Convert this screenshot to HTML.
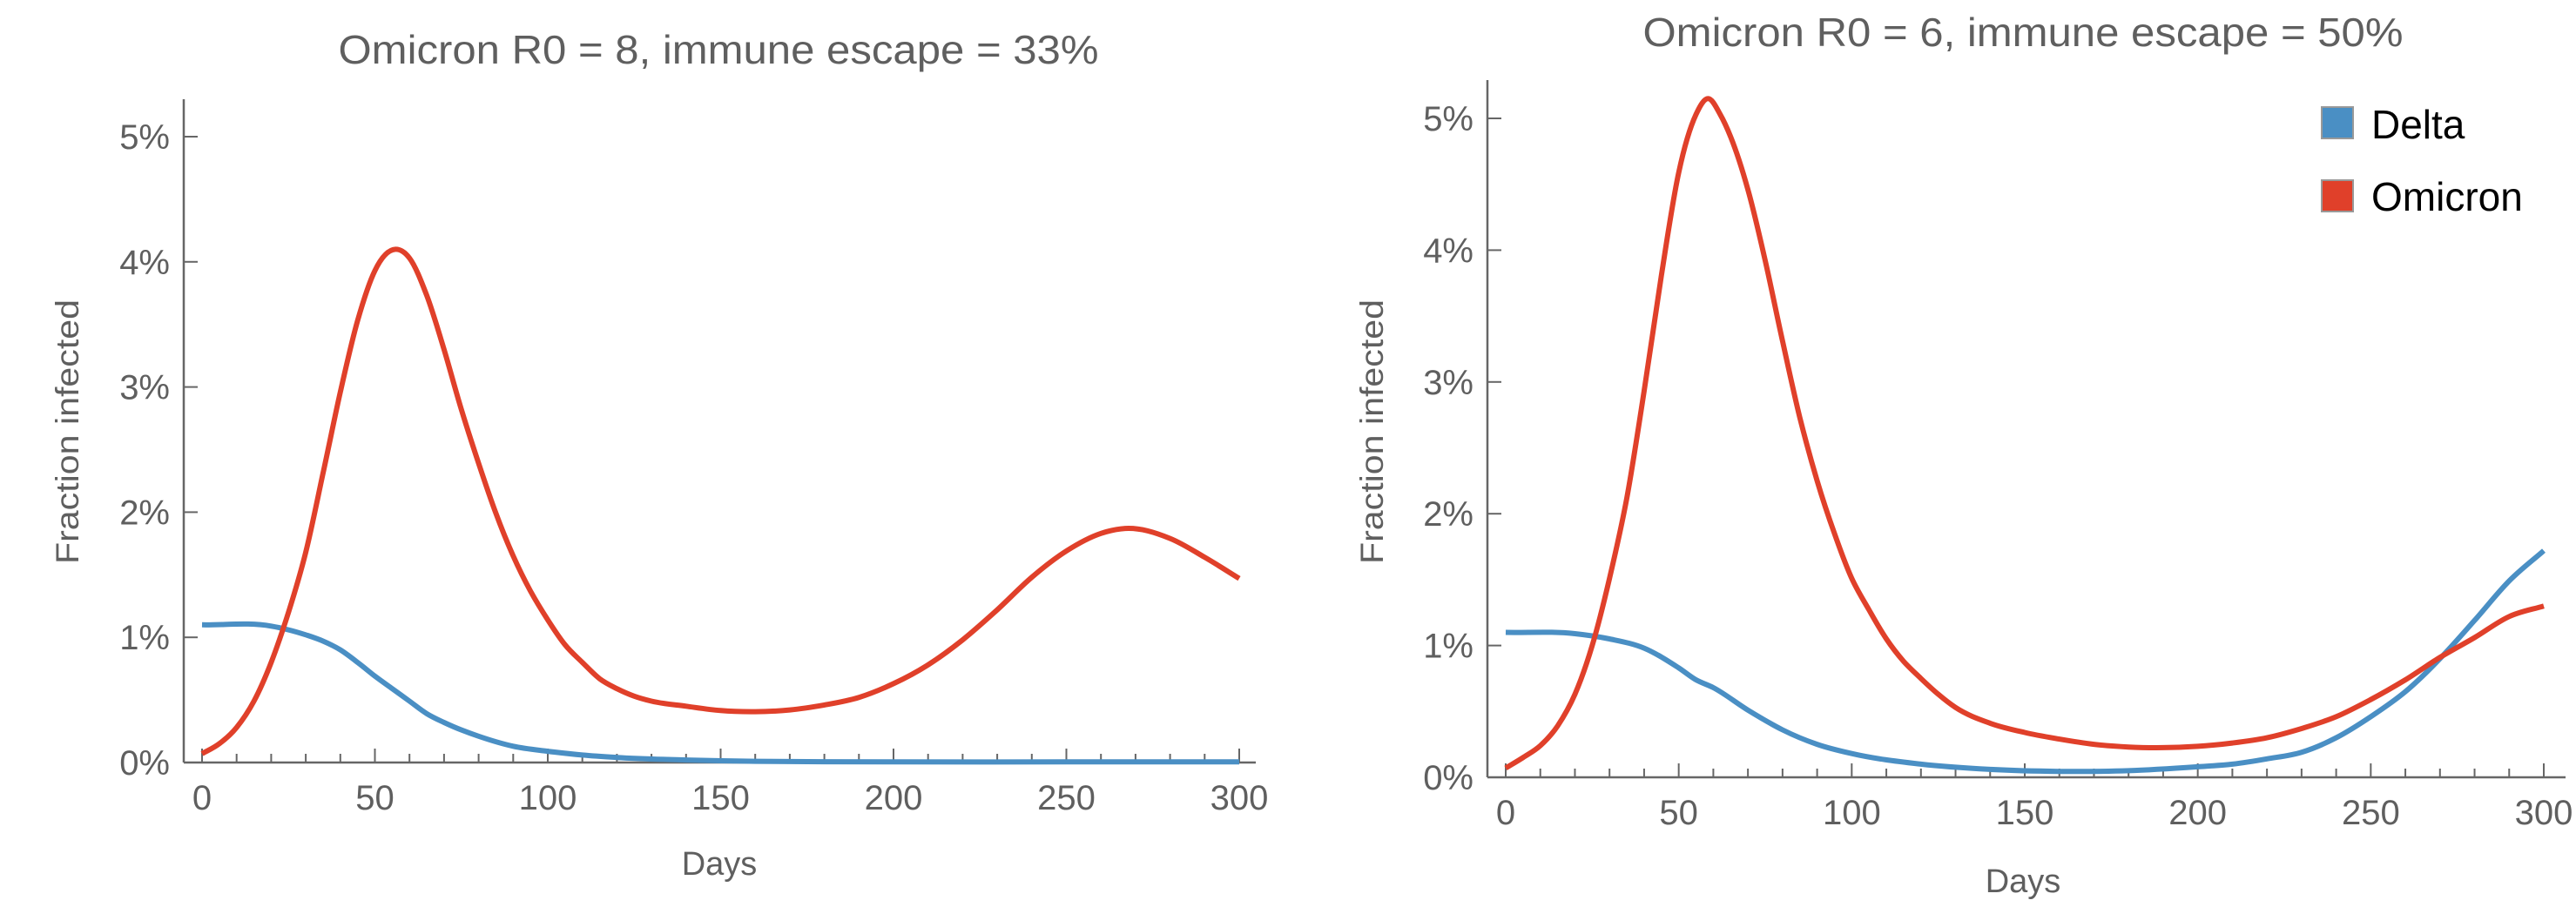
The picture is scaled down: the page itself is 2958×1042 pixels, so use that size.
<!DOCTYPE html>
<html><head><meta charset="utf-8"><style>
html,body{margin:0;padding:0;background:#fff;}
svg{display:block;font-family:"Liberation Sans",sans-serif;}
</style></head><body>
<svg id="chart" width="2958" height="1042" viewBox="0 0 2958 1042"></svg>
<script>
const leftOmDays = [0,5,10,15,20,25,30,35,40,45,50,56,60,65,70,75,80,85,90,95,100,105,110,115,120,125,130,140,150,160,170,180,190,200,210,220,230,240,250,260,267,280,290,300];
const leftOmicron = [0.07,0.15,0.28,0.49,0.8,1.2,1.68,2.31,2.96,3.53,3.93,4.1,4.03,3.73,3.3,2.82,2.39,1.99,1.65,1.37,1.14,0.94,0.8,0.67,0.59,0.53,0.49,0.45,0.415,0.406,0.42,0.46,0.52,0.63,0.78,0.98,1.22,1.48,1.69,1.83,1.87,1.79,1.64,1.47];
const leftDeltaDays = [0,20,25,30,35,40,45,50,55,60,65,70,75,80,90,100,110,120,140,160,200,250,300];
const leftDelta = [1.1,1.09,1.06,1.02,0.97,0.9,0.8,0.69,0.59,0.49,0.39,0.32,0.26,0.21,0.13,0.09,0.06,0.04,0.02,0.01,0.005,0.005,0.005];
const rightOmDays = [0,5,10,15,20,25,30,35,40,45,50,55,58.5,62,65,70,75,80,85,90,95,100,105,110,115,120,125,130,140,150,160,170,180,190,200,210,220,230,240,250,260,270,280,290,300];
const rightOmicron = [0.07,0.15,0.24,0.39,0.63,1.0,1.51,2.12,2.93,3.81,4.59,5.03,5.15,5.03,4.86,4.46,3.92,3.31,2.73,2.25,1.85,1.51,1.27,1.05,0.88,0.75,0.63,0.53,0.41,0.34,0.29,0.25,0.23,0.225,0.235,0.26,0.3,0.37,0.46,0.59,0.74,0.91,1.06,1.22,1.3];
const rightDeltaDays = [0,20,30,40,50,55,60,70,80,90,100,120,140,160,180,200,210,220,230,240,250,260,270,280,290,300];
const rightDelta = [1.1,1.09,1.05,0.98,0.83,0.74,0.68,0.51,0.36,0.25,0.18,0.1,0.06,0.045,0.05,0.08,0.1,0.14,0.19,0.3,0.46,0.65,0.9,1.19,1.49,1.72];
const xTicks = [0,50,100,150,200,250,300];
const yTicks = [0,1,2,3,4,5];
const yTickLabels = ["0%","1%","2%","3%","4%","5%"];

const NS = "http://www.w3.org/2000/svg";
const svg = document.getElementById('chart');
function mk(tag, attrs, parent){const e=document.createElementNS(NS,tag);for(const k in attrs)e.setAttribute(k,attrs[k]);(parent||svg).appendChild(e);return e;}

function splinePath(xs, ys, X, Y){
  const n=xs.length, m=[];
  for(let i=0;i<n;i++){
    if(i===0) m.push((ys[1]-ys[0])/(xs[1]-xs[0]));
    else if(i===n-1) m.push((ys[n-1]-ys[n-2])/(xs[n-1]-xs[n-2]));
    else {
      const d0=(ys[i]-ys[i-1])/(xs[i]-xs[i-1]), d1=(ys[i+1]-ys[i])/(xs[i+1]-xs[i]);
      const h0=xs[i]-xs[i-1], h1=xs[i+1]-xs[i];
      m.push((d0*h1+d1*h0)/(h0+h1));
    }
  }
  let d='M'+X(xs[0]).toFixed(1)+','+Y(ys[0]).toFixed(1);
  for(let i=0;i<n-1;i++){
    const h=xs[i+1]-xs[i];
    const c1x=xs[i]+h/3, c1y=ys[i]+m[i]*h/3;
    const c2x=xs[i+1]-h/3, c2y=ys[i+1]-m[i+1]*h/3;
    d+=' C'+X(c1x).toFixed(1)+','+Y(c1y).toFixed(1)+' '+X(c2x).toFixed(1)+','+Y(c2y).toFixed(1)+' '+X(xs[i+1]).toFixed(1)+','+Y(ys[i+1]).toFixed(1);
  }
  return d;
}

function panel(cfg){
  const g=mk('g',{});
  
  
  const X=d=>cfg.x0+(cfg.x300-cfg.x0)*d/300;
  const Y=v=>cfg.y0-(cfg.y0-cfg.y5)*v/5;
  const ax='#666';
  const yAxis=mk('line',{x1:cfg.axX,y1:cfg.axTop,x2:cfg.axX,y2:cfg.y0,stroke:ax,'stroke-width':2.5},g);
  
  
  const xAxis=mk('line',{x1:cfg.axX,y1:cfg.y0,x2:cfg.axRight,y2:cfg.y0,stroke:ax,'stroke-width':2.5},g);
  
  
  for(let d=0;d<=300;d+=10){
    const major=d%50===0;
    mk('line',{x1:X(d),x2:X(d),y1:cfg.y0,y2:cfg.y0-(major?16:10),stroke:ax,'stroke-width':2},g);
  }
  xTicks.forEach(t=>{
    const tx=mk('text',{x:X(t),y:cfg.y0+54,'text-anchor':'middle','font-size':40,fill:'#5f5f5f'},g);
    tx.textContent=t;
    
    
  });
  yTicks.forEach((t,i)=>{
    mk('line',{x1:cfg.axX,x2:cfg.axX+16,y1:Y(t),y2:Y(t),stroke:ax,'stroke-width':2},g);
    const tx=mk('text',{x:cfg.axX-16,y:Y(t)+14,'text-anchor':'end','font-size':40,fill:'#5f5f5f'},g);
    tx.textContent=yTickLabels[i];
    
    
  });
  const series=[[cfg.dDays,cfg.delta,'#4a8fc4','delta-line'],[cfg.oDays,cfg.omicron,'#e0402a','omicron-line']];
  series.forEach(s=>{
    const p=mk('path',{d:splinePath(s[0],s[1],X,Y),fill:'none',stroke:s[2],'stroke-width':6,'stroke-linejoin':'round'},g);
    
    
  });
  const title=mk('text',{x:cfg.titleX,y:cfg.titleY,'text-anchor':'middle','font-size':46,fill:'#5f5f5f',textLength:873,lengthAdjust:'spacingAndGlyphs'},g);
  title.textContent=cfg.title;
  
  
  const xl=mk('text',{x:cfg.daysX,y:cfg.daysY,'text-anchor':'middle','font-size':38,fill:'#5f5f5f'},g);
  xl.textContent='Days';
  
  
  const yl=mk('text',{x:0,y:0,'text-anchor':'middle','font-size':37,fill:'#5f5f5f',transform:'translate('+cfg.ylX+','+cfg.ylY+') rotate(-90)',textLength:304,lengthAdjust:'spacingAndGlyphs'},g);
  yl.textContent='Fraction infected';
  
  
}

panel({name:'left-panel',x0:232,x300:1423,y0:876,y5:157,axX:211,axTop:114,axRight:1442,
  titleX:825,titleY:73,daysX:826,daysY:1005,ylX:90,ylY:496,title:'Omicron R0 = 8, immune escape = 33%',
  dDays:leftDeltaDays,delta:leftDelta,oDays:leftOmDays,omicron:leftOmicron});
panel({name:'right-panel',x0:1729,x300:2921,y0:893,y5:136,axX:1708,axTop:92,axRight:2946,
  titleX:2323,titleY:53,daysX:2323,daysY:1025,ylX:1588,ylY:496,title:'Omicron R0 = 6, immune escape = 50%',
  dDays:rightDeltaDays,delta:rightDelta,oDays:rightOmDays,omicron:rightOmicron});

const lg=mk('g',{});


[['Delta','#4a8fc4',123,159],['Omicron','#e0402a',207,242]].forEach(e=>{
  const r=mk('rect',{x:2666,y:e[2],width:36,height:36,fill:e[1],stroke:'#999','stroke-width':2},lg);
  
  
  const t=mk('text',{x:2723,y:e[3],'font-size':46,fill:'#000'},lg);
  t.textContent=e[0];
  
  
});
</script>
</body></html>
